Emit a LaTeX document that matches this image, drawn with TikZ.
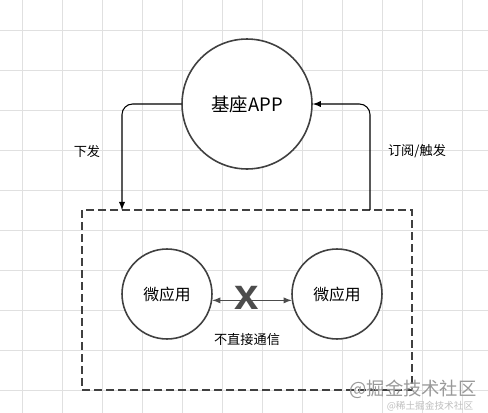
\documentclass[tikz,border=0pt]{standalone}
\usepackage{fontspec}
\newfontfamily\cjk{Noto Sans CJK SC}
\newfontfamily\crossfont{Liberation Sans}
\usetikzlibrary{arrows}
\usetikzlibrary{calc}

\begin{document}
\begin{tikzpicture}[x=0.02cm, y=-0.02cm,
  line/.style={>=latex, line width=0.6pt},
  app/.style={circle, draw=black!75, fill=white, line width=0.9pt, inner sep=0pt},
  label/.style={font=\cjk\fontsize{7.5}{9}\selectfont}]
\useasboundingbox (0,0) rectangle (488,413);

% background grid
\foreach \gx in {22.5,62.5,...,462.5}
  \draw[black!12, line width=0.5pt] (\gx,0) -- (\gx,413);
\foreach \gy in {30,70,...,390}
  \draw[black!12, line width=0.5pt] (0,\gy) -- (488,\gy);

\node[app, minimum size=2.6cm, font=\cjk\fontsize{10.5}{12}\selectfont] (base) at (247,104) {基座APP};
\node[draw=black!75, dashed, dash pattern=on 0.16cm off 0.08cm, line width=1.1pt,
  minimum width=6.6cm, minimum height=3.6cm, inner sep=0pt] (frame) at (247,300) {};
\node[app, minimum size=1.8cm, font=\cjk\fontsize{9}{11}\selectfont] (left) at (167,294) {微应用};
\node[app, minimum size=1.8cm, font=\cjk\fontsize{9}{11}\selectfont] (right) at (337,294) {微应用};

\coordinate (send) at (122,210);
\coordinate (notify) at (370,210);
\draw[->, line, rounded corners=6] (base.west) -| (send);
\draw[->, line, rounded corners=6] (notify) |- (base.east);
\node[label] (sendlabel) at (87,151) {下发};
\node[label] (notifylabel) at (417,151) {订阅/触发};

\draw[<->, line, black!70] (left.-8) -- (right.188);
\node[text=black!70, font=\crossfont\bfseries\fontsize{25}{25}\selectfont, inner sep=0pt] (cross) at (247,298) {x};
\node[label] (nolink) at (247,340) {不直接通信};

% watermark
\node[font=\cjk\fontsize{10.4}{12}\selectfont, text=black!40] (mark) at (413,389) {@掘金技术社区};
\node[font=\cjk\fontsize{5.5}{6}\selectfont, text=black!25, inner sep=0pt] (mark2) at (430,406) {@稀土掘金技术社区};
\end{tikzpicture}
\end{document}
